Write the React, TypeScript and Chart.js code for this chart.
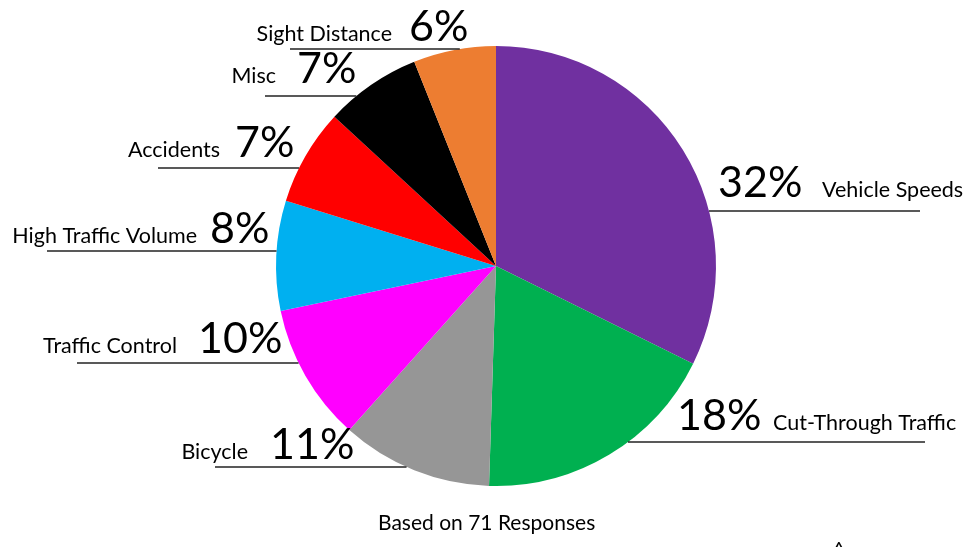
import React, { useEffect, useRef } from "react";
import { Chart, ArcElement, PieController } from "chart.js";

Chart.register(ArcElement, PieController);

// ---- data ----
const categories = [
  "Vehicle Speeds",
  "Cut-Through Traffic",
  "Bicycle",
  "Traffic Control",
  "High Traffic Volume",
  "Accidents",
  "Misc",
  "Sight Distance",
];
const percentages = [32, 18, 11, 10, 8, 7, 7, 6];
const footnote = "Based on 71 Responses";

// ---- styles ----
const sliceColors = [
  "#7030A0",
  "#00B050",
  "#969696",
  "#FF00FF",
  "#00B0F0",
  "#FF0000",
  "#000000",
  "#ED7D31",
];
const FONT = "Lato, 'Open Sans', 'DejaVu Sans', sans-serif";

// ---- label layout (annotation placement, px in canvas) ----
// side: "L" = label text then percent, line from lineX to pie edge
//       "R" = percent then label text, line from pie edge to lineX
const labelLayout = [
  { side: "R", baseline: 197, pctX: 718, textX: 822, lineY: 211, lineX: 920 },
  { side: "R", baseline: 430, pctX: 677, textX: 773, lineY: 442, lineX: 925 },
  { side: "L", baseline: 459, pctX: 270, textX: 248, lineY: 467, lineX: 215 },
  { side: "L", baseline: 353, pctX: 198, textX: 177, lineY: 363, lineX: 77 },
  { side: "L", baseline: 243, pctX: 210, textX: 197, lineY: 251, lineX: 47 },
  { side: "L", baseline: 157, pctX: 235, textX: 220, lineY: 168, lineX: 158 },
  { side: "L", baseline: 83, pctX: 297, textX: 276, lineY: 96, lineX: 265 },
  { side: "L", baseline: 41, pctX: 409, textX: 392, lineY: 49, lineX: 290 },
];

const labelPlugin = {
  id: "calloutLabels",
  afterDraw(chart: any) {
    const ctx: CanvasRenderingContext2D = chart.ctx;
    const meta = chart.getDatasetMeta(0);
    const arc: any = meta.data[0];
    if (!arc) return;
    const cx = arc.x;
    const cy = arc.y;
    const r = arc.outerRadius;
    ctx.save();
    ctx.fillStyle = "#000";
    ctx.textBaseline = "alphabetic";
    labelLayout.forEach((lay, i) => {
      const dy = lay.lineY - cy;
      const dx = Math.sqrt(Math.max(0, r * r - dy * dy));
      const edgeX = lay.side === "L" ? cx - dx : cx + dx;
      ctx.strokeStyle = "#222";
      ctx.lineWidth = 1.5;
      ctx.beginPath();
      ctx.moveTo(lay.lineX, lay.lineY);
      ctx.lineTo(edgeX, lay.lineY);
      ctx.stroke();

      const pct = percentages[i] + "%";
      ctx.font = `400 43px ${FONT}`;
      ctx.textAlign = "left";
      ctx.fillText(pct, lay.pctX, lay.baseline);

      ctx.font = `400 21.5px ${FONT}`;
      ctx.textAlign = lay.side === "L" ? "right" : "left";
      ctx.fillText(categories[i], lay.textX, lay.baseline);
    });

    ctx.font = `400 21px ${FONT}`;
    ctx.textAlign = "left";
    ctx.fillText(footnote, 378, 530);

    ctx.font = `700 16px ${FONT}`;
    ctx.textAlign = "center";
    ctx.fillText("^", 839, 553);
    ctx.restore();
  },
};

export default function App() {
  const canvasRef = useRef<HTMLCanvasElement | null>(null);

  useEffect(() => {
    document.body.style.margin = "0";
    const canvas = canvasRef.current;
    if (!canvas) return;
    const chart = new Chart(canvas, {
      type: "pie",
      data: {
        labels: categories,
        datasets: [
          {
            data: percentages,
            backgroundColor: sliceColors,
            borderWidth: 0,
          },
        ],
      },
      options: {
        responsive: false,
        animation: false,
        layout: { padding: { top: 46, bottom: 61, left: 276, right: 252 } },
        plugins: {
          legend: { display: false },
          tooltip: { enabled: false },
        },
      },
      plugins: [labelPlugin],
    });
    return () => chart.destroy();
  }, []);

  return (
    <div style={{ width: 968, height: 547, background: "#fff" }}>
      <canvas ref={canvasRef} width={968} height={547} style={{ display: "block" }} />
    </div>
  );
}
